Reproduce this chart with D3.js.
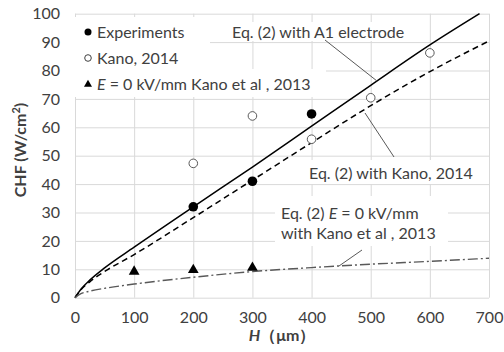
<!DOCTYPE html>
<html>
<head>
<meta charset="utf-8">
<script src="https://cdn.jsdelivr.net/npm/d3@7"></script>
<style>
  body { margin: 0; background: #fff; }
  svg text { font-family: Lato, "Noto Sans", sans-serif; fill: #404040; }
</style>
</head>
<body>
<div id="chart"></div>
<script>
// Measured points
const expH = [200, 300, 400];
const expCHF = [32, 41, 64.7];

const kanoH = [200, 300, 400, 500, 600];
const kanoCHF = [47.3, 64, 55.8, 70.4, 86.2];

const e0H = [100, 200, 300];
const e0CHF = [9.2, 9.8, 10.6];

// Model curves
const curveH = [0, 10, 25, 50, 100, 200, 300, 400, 500, 600, 684, 700];
const eqA1 = [0, 3, 6.2, 10.5, 17.8, 32, 46, 60.4, 74.8, 89, 100, null];
const eqKano = [0, 2.8, 5.6, 9.2, 15.2, 28.2, 41.4, 54.6, 67.6, 79.6, null, 90.4];
const eqE0 = [0, 1.4, 2.3, 3.3, 4.8, 7.2, 9.2, 10.6, 11.8, 12.8, null, 13.9];

const xTicks = [0, 100, 200, 300, 400, 500, 600, 700];
const yTicks = [0, 10, 20, 30, 40, 50, 60, 70, 80, 90, 100];

const width = 504, height = 352;
const margin = { left: 75, right: 15, top: 13.7, bottom: 54.3 };

const svg = d3.select("#chart").append("svg")
    .attr("width", width)
    .attr("height", height);

const x = d3.scaleLinear().domain([0, 700]).range([margin.left, width - margin.right]);
const y = d3.scaleLinear().domain([0, 100]).range([height - margin.bottom, margin.top]);

// Gridlines
svg.append("g")
    .attr("transform", "translate(0," + y(0) + ")")
    .call(d3.axisBottom(x).tickValues(xTicks).tickSize(-(y(0) - y(100))).tickFormat(""))
    .call(g => g.select(".domain").remove())
    .call(g => g.selectAll("line").attr("stroke", "#d9d9d9"));

svg.append("g")
    .attr("transform", "translate(" + x(0) + ",0)")
    .call(d3.axisLeft(y).tickValues(yTicks).tickSize(-(x(700) - x(0))).tickFormat(""))
    .call(g => g.select(".domain").remove())
    .call(g => g.selectAll("line").attr("stroke", "#d9d9d9"));

// Tick labels
svg.append("g")
    .attr("transform", "translate(0," + y(0) + ")")
    .call(d3.axisBottom(x).tickValues(xTicks).tickSize(0).tickPadding(14))
    .call(g => g.select(".domain").remove())
    .call(g => g.selectAll("text").attr("font-size", 16).attr("font-family", "Lato").attr("fill", "#404040"));

svg.append("g")
    .attr("transform", "translate(" + x(0) + ",0)")
    .call(d3.axisLeft(y).tickValues(yTicks).tickSize(0).tickPadding(15))
    .call(g => g.select(".domain").remove())
    .call(g => g.selectAll("text").attr("font-size", 16).attr("font-family", "Lato").attr("fill", "#404040"));

// White backgrounds behind legend and labels
const boxes = [
    [75, 17, 210, 69],
    [75, 69, 326, 97],
    [210, 22, 416, 41],
    [305, 160, 482, 184],
    [275, 196, 448, 246]
];
svg.selectAll(".bg").data(boxes).enter().append("rect")
    .attr("x", d => d[0]).attr("y", d => d[1])
    .attr("width", d => d[2] - d[0]).attr("height", d => d[3] - d[1])
    .attr("fill", "#fff");

// Lines
const pts = vals => curveH.map((h, i) => [h, vals[i]]).filter(d => d[1] !== null);
const line = d3.line().x(d => x(d[0])).y(d => y(d[1])).curve(d3.curveMonotoneX);

svg.append("path").datum(pts(eqA1)).attr("d", line)
    .attr("fill", "none").attr("stroke", "#000").attr("stroke-width", 1.5);
svg.append("path").datum(pts(eqKano)).attr("d", line)
    .attr("fill", "none").attr("stroke", "#000").attr("stroke-width", 1.5)
    .attr("stroke-dasharray", "6,4");
svg.append("path").datum(pts(eqE0)).attr("d", line)
    .attr("fill", "none").attr("stroke", "#595959").attr("stroke-width", 1.4)
    .attr("stroke-dasharray", "10,3,2,3");

// Leader lines
const leaders = [
    [325, 40, 377, 81],
    [365, 113, 394, 157],
    [362, 250, 339, 266]
];
svg.selectAll(".leader").data(leaders).enter().append("line")
    .attr("x1", d => d[0]).attr("y1", d => d[1])
    .attr("x2", d => d[2]).attr("y2", d => d[3])
    .attr("stroke", "#595959").attr("stroke-width", 1);

// Markers
const tri = d3.symbol().type(d3.symbolTriangle).size(50);

svg.selectAll(".kano").data(kanoH).enter().append("circle")
    .attr("cx", d => x(d)).attr("cy", (d, i) => y(kanoCHF[i])).attr("r", 4.3)
    .attr("fill", "#fff").attr("stroke", "#595959").attr("stroke-width", 1);

svg.selectAll(".exp").data(expH).enter().append("circle")
    .attr("cx", d => x(d)).attr("cy", (d, i) => y(expCHF[i])).attr("r", 4.8)
    .attr("fill", "#000");

svg.selectAll(".e0").data(e0H).enter().append("path")
    .attr("d", tri)
    .attr("transform", (d, i) => "translate(" + x(d) + "," + y(e0CHF[i]) + ")")
    .attr("fill", "#000");

// Legend
const legendY = [32, 58, 84];
svg.append("circle").attr("cx", 88).attr("cy", legendY[0]).attr("r", 3.5).attr("fill", "#000");
svg.append("circle").attr("cx", 88).attr("cy", legendY[1]).attr("r", 3.3)
    .attr("fill", "#fff").attr("stroke", "#404040").attr("stroke-width", 1);
svg.append("path").attr("d", d3.symbol().type(d3.symbolTriangle).size(28))
    .attr("transform", "translate(88," + (legendY[2] + 0.5) + ")").attr("fill", "#000");

svg.append("text").attr("x", 97).attr("y", legendY[0] + 6).attr("font-size", 16).text("Experiments");
svg.append("text").attr("x", 97).attr("y", legendY[1] + 6).attr("font-size", 16).text("Kano, 2014");
const l3 = svg.append("text").attr("x", 97).attr("y", legendY[2] + 6).attr("font-size", 16);
l3.append("tspan").attr("font-style", "italic").text("E");
l3.append("tspan").text(" = 0 kV/mm Kano et al , 2013");

// Curve labels
svg.append("text").attr("x", 232).attr("y", 38).attr("font-size", 16).text("Eq. (2) with A1 electrode");
svg.append("text").attr("x", 309).attr("y", 179).attr("font-size", 16).text("Eq. (2) with Kano, 2014");
const t3 = svg.append("text").attr("x", 281).attr("y", 219).attr("font-size", 16);
t3.append("tspan").text("Eq. (2)  ");
t3.append("tspan").attr("font-style", "italic").text("E");
t3.append("tspan").text(" = 0 kV/mm");
svg.append("text").attr("x", 281).attr("y", 239).attr("font-size", 16).text("with Kano et al , 2013");

// Axis titles
svg.append("text")
    .attr("transform", "translate(26,150) rotate(-90)")
    .attr("text-anchor", "middle")
    .attr("font-size", 16).attr("font-weight", "bold")
    .attr("fill", "#000")
    .html('CHF (W/cm<tspan dy="-6" font-size="11">2</tspan><tspan dy="6">)</tspan>');

const xt = svg.append("text")
    .attr("x", 282).attr("y", 341)
    .attr("text-anchor", "middle")
    .attr("font-size", 16).attr("font-weight", "bold");
xt.append("tspan").attr("font-style", "italic").text("H");
xt.append("tspan").text("（μm）");
</script>
</body>
</html>
